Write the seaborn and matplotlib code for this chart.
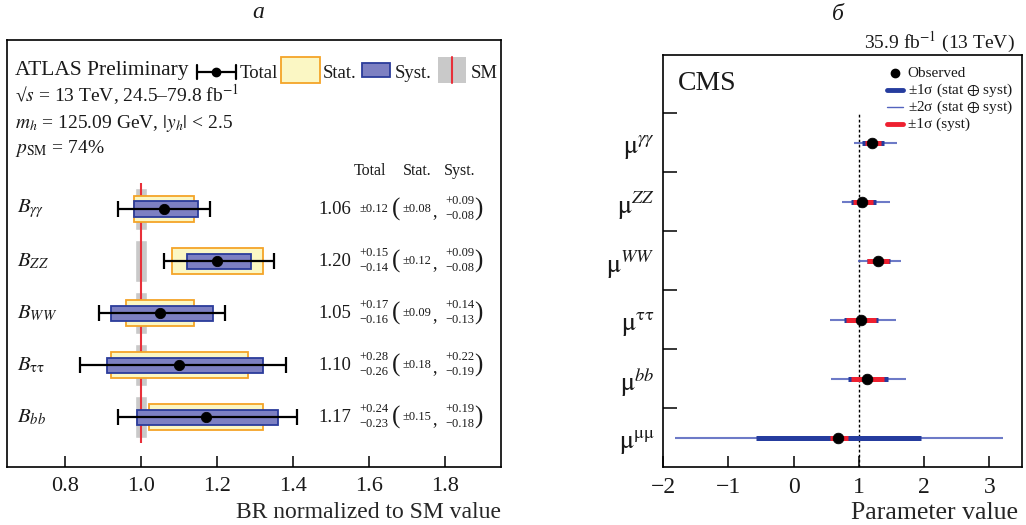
import numpy as np
import matplotlib
matplotlib.use("Agg")
import matplotlib.pyplot as plt
import seaborn as sns

# ---------------- data ----------------
# Panel a (ATLAS)
atlas_labels = [r"$B_{\gamma\gamma}$", r"$B_{ZZ}$", r"$B_{WW}$", r"$B_{\mathrm{\tau\tau}}$", r"$B_{bb}$"]
atlas_central = [1.06, 1.20, 1.05, 1.10, 1.17]
atlas_tot_up = [0.12, 0.15, 0.17, 0.28, 0.24]
atlas_tot_dn = [0.12, 0.14, 0.16, 0.26, 0.23]
atlas_stat = [0.08, 0.12, 0.09, 0.18, 0.15]
atlas_syst_up = [0.09, 0.09, 0.14, 0.22, 0.19]
atlas_syst_dn = [0.08, 0.08, 0.13, 0.19, 0.18]
atlas_xticks = [0.8, 1.0, 1.2, 1.4, 1.6, 1.8]
sm_value = 1.0

# Panel b (CMS)
cms_labels = [r"$\mathrm{μ}^{\gamma\gamma}$", r"$\mathrm{μ}^{ZZ}$", r"$\mathrm{μ}^{WW}$",
              r"$\mathrm{μ}^{\mathrm{ττ}}$", r"$\mathrm{μ}^{bb}$", r"$\mathrm{μ}^{\mathrm{μμ}}$"]
cms_central = [1.20, 1.05, 1.29, 1.03, 1.12, 0.68]
cms_1s_lo = [1.05, 0.88, 1.12, 0.77, 0.83, -0.58]
cms_1s_hi = [1.39, 1.27, 1.48, 1.30, 1.44, 1.95]
cms_2s_lo = [0.92, 0.74, 0.98, 0.56, 0.57, -1.82]
cms_2s_hi = [1.58, 1.48, 1.65, 1.57, 1.73, 3.21]
cms_syst_lo = [1.09, 0.91, 1.13, 0.80, 0.88, 0.56]
cms_syst_hi = [1.34, 1.21, 1.46, 1.27, 1.39, 0.84]
cms_xticks = [-2, -1, 0, 1, 2, 3]

# ---------------- style ----------------
sns.set_theme(style="ticks")
plt.rcParams['font.family'] = ['Liberation Serif', 'DejaVu Serif']
plt.rcParams['mathtext.fontset'] = 'stix'
plt.rcParams['axes.linewidth'] = 1.2
plt.rcParams['axes.edgecolor'] = 'black'
plt.rcParams['text.color'] = '#1a1a1a'

fig = plt.figure(figsize=(10.26, 5.25), dpi=100)
axA = fig.add_axes([7/1026, 58/525, 494/1026, 427/525])
axB = fig.add_axes([663/1026, 58/525, 359/1026, 412/525])

YELLOW = '#FBF7C4'
ORANGE = '#F4A428'
BLUEF = '#7D80C2'
BLUEE = '#2B3C9B'
GRAY = '#C9C9C9'
RED = '#E8303A'

# ---------------- Panel a ----------------
c = np.array(atlas_central)
n = len(c)
ypos = np.arange(n)[::-1].astype(float)
st = np.array(atlas_stat)
su = np.array(atlas_syst_up)
sd = np.array(atlas_syst_dn)

axA.barh(ypos, width=0.032, left=sm_value - 0.016, height=0.8, color=GRAY, zorder=1)
axA.vlines(sm_value, -0.5, n - 0.5, color=RED, lw=1.5, zorder=1.5)
axA.barh(ypos, width=2 * st, left=c - st, height=0.5, color=YELLOW,
         edgecolor=ORANGE, linewidth=1.3, zorder=2)
axA.barh(ypos, width=su + sd, left=c - sd, height=0.29, color=BLUEF,
         edgecolor=BLUEE, linewidth=1.3, zorder=3)
axA.errorbar(c, ypos, xerr=[atlas_tot_dn, atlas_tot_up], fmt='none', ecolor='black',
             elinewidth=1.6, capsize=5.5, capthick=1.6, zorder=4)
sns.scatterplot(x=c, y=ypos, color='black', s=55, edgecolor='black', ax=axA, zorder=5)

axA.set_xlim(0.647, 1.947)
axA.set_ylim(-0.96, 7.25)
axA.set_yticks([])
axA.set_xticks(atlas_xticks)
axA.set_xticklabels([f"{t:.1f}" for t in atlas_xticks])
axA.tick_params(axis='x', direction='in', length=8, width=1.1, labelsize=16, pad=7,
                colors='black', labelcolor='#1a1a1a')
axA.set_xlabel("BR normalized to SM value", fontsize=17, loc='right')
axA.xaxis.set_label_coords(1.0, -0.082)

for i in range(n):
    y = ypos[i]
    axA.text(0.674, y, atlas_labels[i], fontsize=15, ha='left', va='center')
    axA.text(1.552, y, f"{atlas_central[i]:.2f}", fontsize=13.5, ha='right', va='center')
    if atlas_tot_up[i] == atlas_tot_dn[i]:
        axA.text(1.574, y, f"±{atlas_tot_up[i]:.2f}", fontsize=9, ha='left', va='center')
    else:
        axA.text(1.574, y + 0.15, f"+{atlas_tot_up[i]:.2f}", fontsize=9, ha='left', va='center')
        axA.text(1.574, y - 0.14, f"−{atlas_tot_dn[i]:.2f}", fontsize=9, ha='left', va='center')
    axA.text(1.67, y, "(", fontsize=18, ha='center', va='center')
    axA.text(1.726, y, f"±{atlas_stat[i]:.2f}", fontsize=9, ha='center', va='center')
    axA.text(1.771, y - 0.05, ",", fontsize=13, ha='center', va='center')
    axA.text(1.84, y + 0.15, f"+{atlas_syst_up[i]:.2f}", fontsize=9, ha='center', va='center')
    axA.text(1.84, y - 0.14, f"−{atlas_syst_dn[i]:.2f}", fontsize=9, ha='center', va='center')
    axA.text(1.887, y, ")", fontsize=18, ha='center', va='center')

axA.text(1.603, 4.65, "Total", fontsize=11.5, ha='center', va='baseline')
axA.text(1.726, 4.65, "Stat.", fontsize=11.5, ha='center', va='baseline')
axA.text(1.839, 4.65, "Syst.", fontsize=11.5, ha='center', va='baseline')

T = axA.transAxes
axA.text(0.016, 0.918, "ATLAS Preliminary", fontsize=15.5, ha='left', va='baseline', transform=T)
axA.text(0.016, 0.855, r"√$s$ = 13 TeV, 24.5–79.8 fb$^{-1}$", fontsize=14, ha='left',
         va='baseline', transform=T)
axA.text(0.016, 0.794, r"$m_h$ = 125.09 GeV, $|y_h|$ < 2.5", fontsize=14, ha='left',
         va='baseline', transform=T)
axA.text(0.016, 0.735, r"$p_{\mathrm{SM}}$ = 74%", fontsize=14, ha='left', va='baseline', transform=T)

# legend (panel a)
ly = 0.925
axA.plot([0.385, 0.4636], [ly, ly], color='black', lw=1.6, transform=T, clip_on=False)
for xx in (0.385, 0.4636):
    axA.plot([xx, xx], [ly - 0.017, ly + 0.017], color='black', lw=1.6, transform=T)
axA.plot([0.424], [ly], 'o', color='black', ms=6, transform=T)
axA.text(0.4717, 0.911, "Total", fontsize=13.5, ha='left', va='baseline', transform=T)
axA.add_patch(plt.Rectangle((0.5547, 0.899), 0.0789, 0.061, facecolor=YELLOW,
                            edgecolor=ORANGE, lw=1.3, transform=T))
axA.text(0.6397, 0.911, "Stat.", fontsize=13.5, ha='left', va='baseline', transform=T)
axA.add_patch(plt.Rectangle((0.7186, 0.913), 0.0567, 0.033, facecolor=BLUEF,
                            edgecolor=BLUEE, lw=1.3, transform=T))
axA.text(0.7854, 0.911, "Syst.", fontsize=13.5, ha='left', va='baseline', transform=T)
axA.add_patch(plt.Rectangle((0.8725, 0.899), 0.0566, 0.061, facecolor=GRAY,
                            edgecolor='none', transform=T))
axA.plot([0.9008, 0.9008], [0.899, 0.960], color=RED, lw=1.5, transform=T)
axA.text(0.9393, 0.911, "SM", fontsize=13.5, ha='left', va='baseline', transform=T)

# ---------------- Panel b ----------------
m = len(cms_central)
yb = np.arange(m)[::-1].astype(float)
axB.vlines(1.0, -0.5, m - 0.5, color='black', lw=1.0, linestyles=(0, (2, 1.6)), zorder=1)
axB.hlines(yb, cms_2s_lo, cms_2s_hi, color='#5363BE', lw=1.5, alpha=0.85, zorder=2)
axB.hlines(yb, cms_1s_lo, cms_1s_hi, color='#253C9E', lw=3.6, zorder=3)
axB.hlines(yb, cms_syst_lo, cms_syst_hi, color='#EE2030', lw=3.6, zorder=4)
sns.scatterplot(x=cms_central, y=yb, color='black', s=58, edgecolor='black', ax=axB, zorder=5)

axB.set_xlim(-2, 3.5)
axB.set_ylim(-0.5, 6.49)
axB.set_xticks(cms_xticks)
axB.set_xticklabels([("−" if t < 0 else "") + str(abs(t)) for t in cms_xticks])
axB.tick_params(axis='x', direction='in', length=8, width=1.1, labelsize=17, pad=7,
                colors='black', labelcolor='#1a1a1a')
axB.set_yticks(np.arange(m) + 0.5)
axB.set_yticklabels([])
axB.set_yticks(yb, minor=True)
axB.set_yticklabels(cms_labels, minor=True)
axB.tick_params(axis='y', which='major', direction='in', length=10, width=1.1, colors='black')
axB.tick_params(axis='y', which='minor', length=0, labelsize=19, pad=6, labelcolor='#1a1a1a')
axB.set_xlabel("Parameter value", fontsize=18.5, loc='right')
axB.xaxis.set_label_coords(0.99, -0.085)

TB = axB.transAxes
axB.text(0.042, 0.932, "CMS", fontsize=20, ha='left', va='center', transform=TB)
axB.plot([0.646], [0.956], 'o', color='black', ms=6, transform=TB)
axB.text(0.682, 0.956, "Observed", fontsize=11, ha='left', va='center', transform=TB)
axB.plot([0.624, 0.669], [0.915, 0.915], color='#253C9E', lw=3.5, transform=TB)
axB.text(0.682, 0.915, r"±1σ (stat $\oplus$ syst)", fontsize=11, ha='left', va='center', transform=TB)
axB.plot([0.624, 0.669], [0.874, 0.874], color='#5363BE', lw=1.0, transform=TB)
axB.text(0.682, 0.874, r"±2σ (stat $\oplus$ syst)", fontsize=11, ha='left', va='center', transform=TB)
axB.plot([0.624, 0.669], [0.833, 0.833], color='#EE2030', lw=3.5, transform=TB)
axB.text(0.682, 0.833, "±1σ (syst)", fontsize=11, ha='left', va='center', transform=TB)

fig.text(1015/1026, 1 - 48/525, r"35.9 fb$^{-1}$ (13 TeV)", fontsize=14, ha='right', va='baseline')
fig.text(258/1026, 1 - 13/525, "а", fontsize=17, style='italic', ha='center', va='center')
fig.text(838/1026, 1 - 15/525, "б", fontsize=17, style='italic', ha='center', va='center')

fig.savefig("out.png", dpi=100)
